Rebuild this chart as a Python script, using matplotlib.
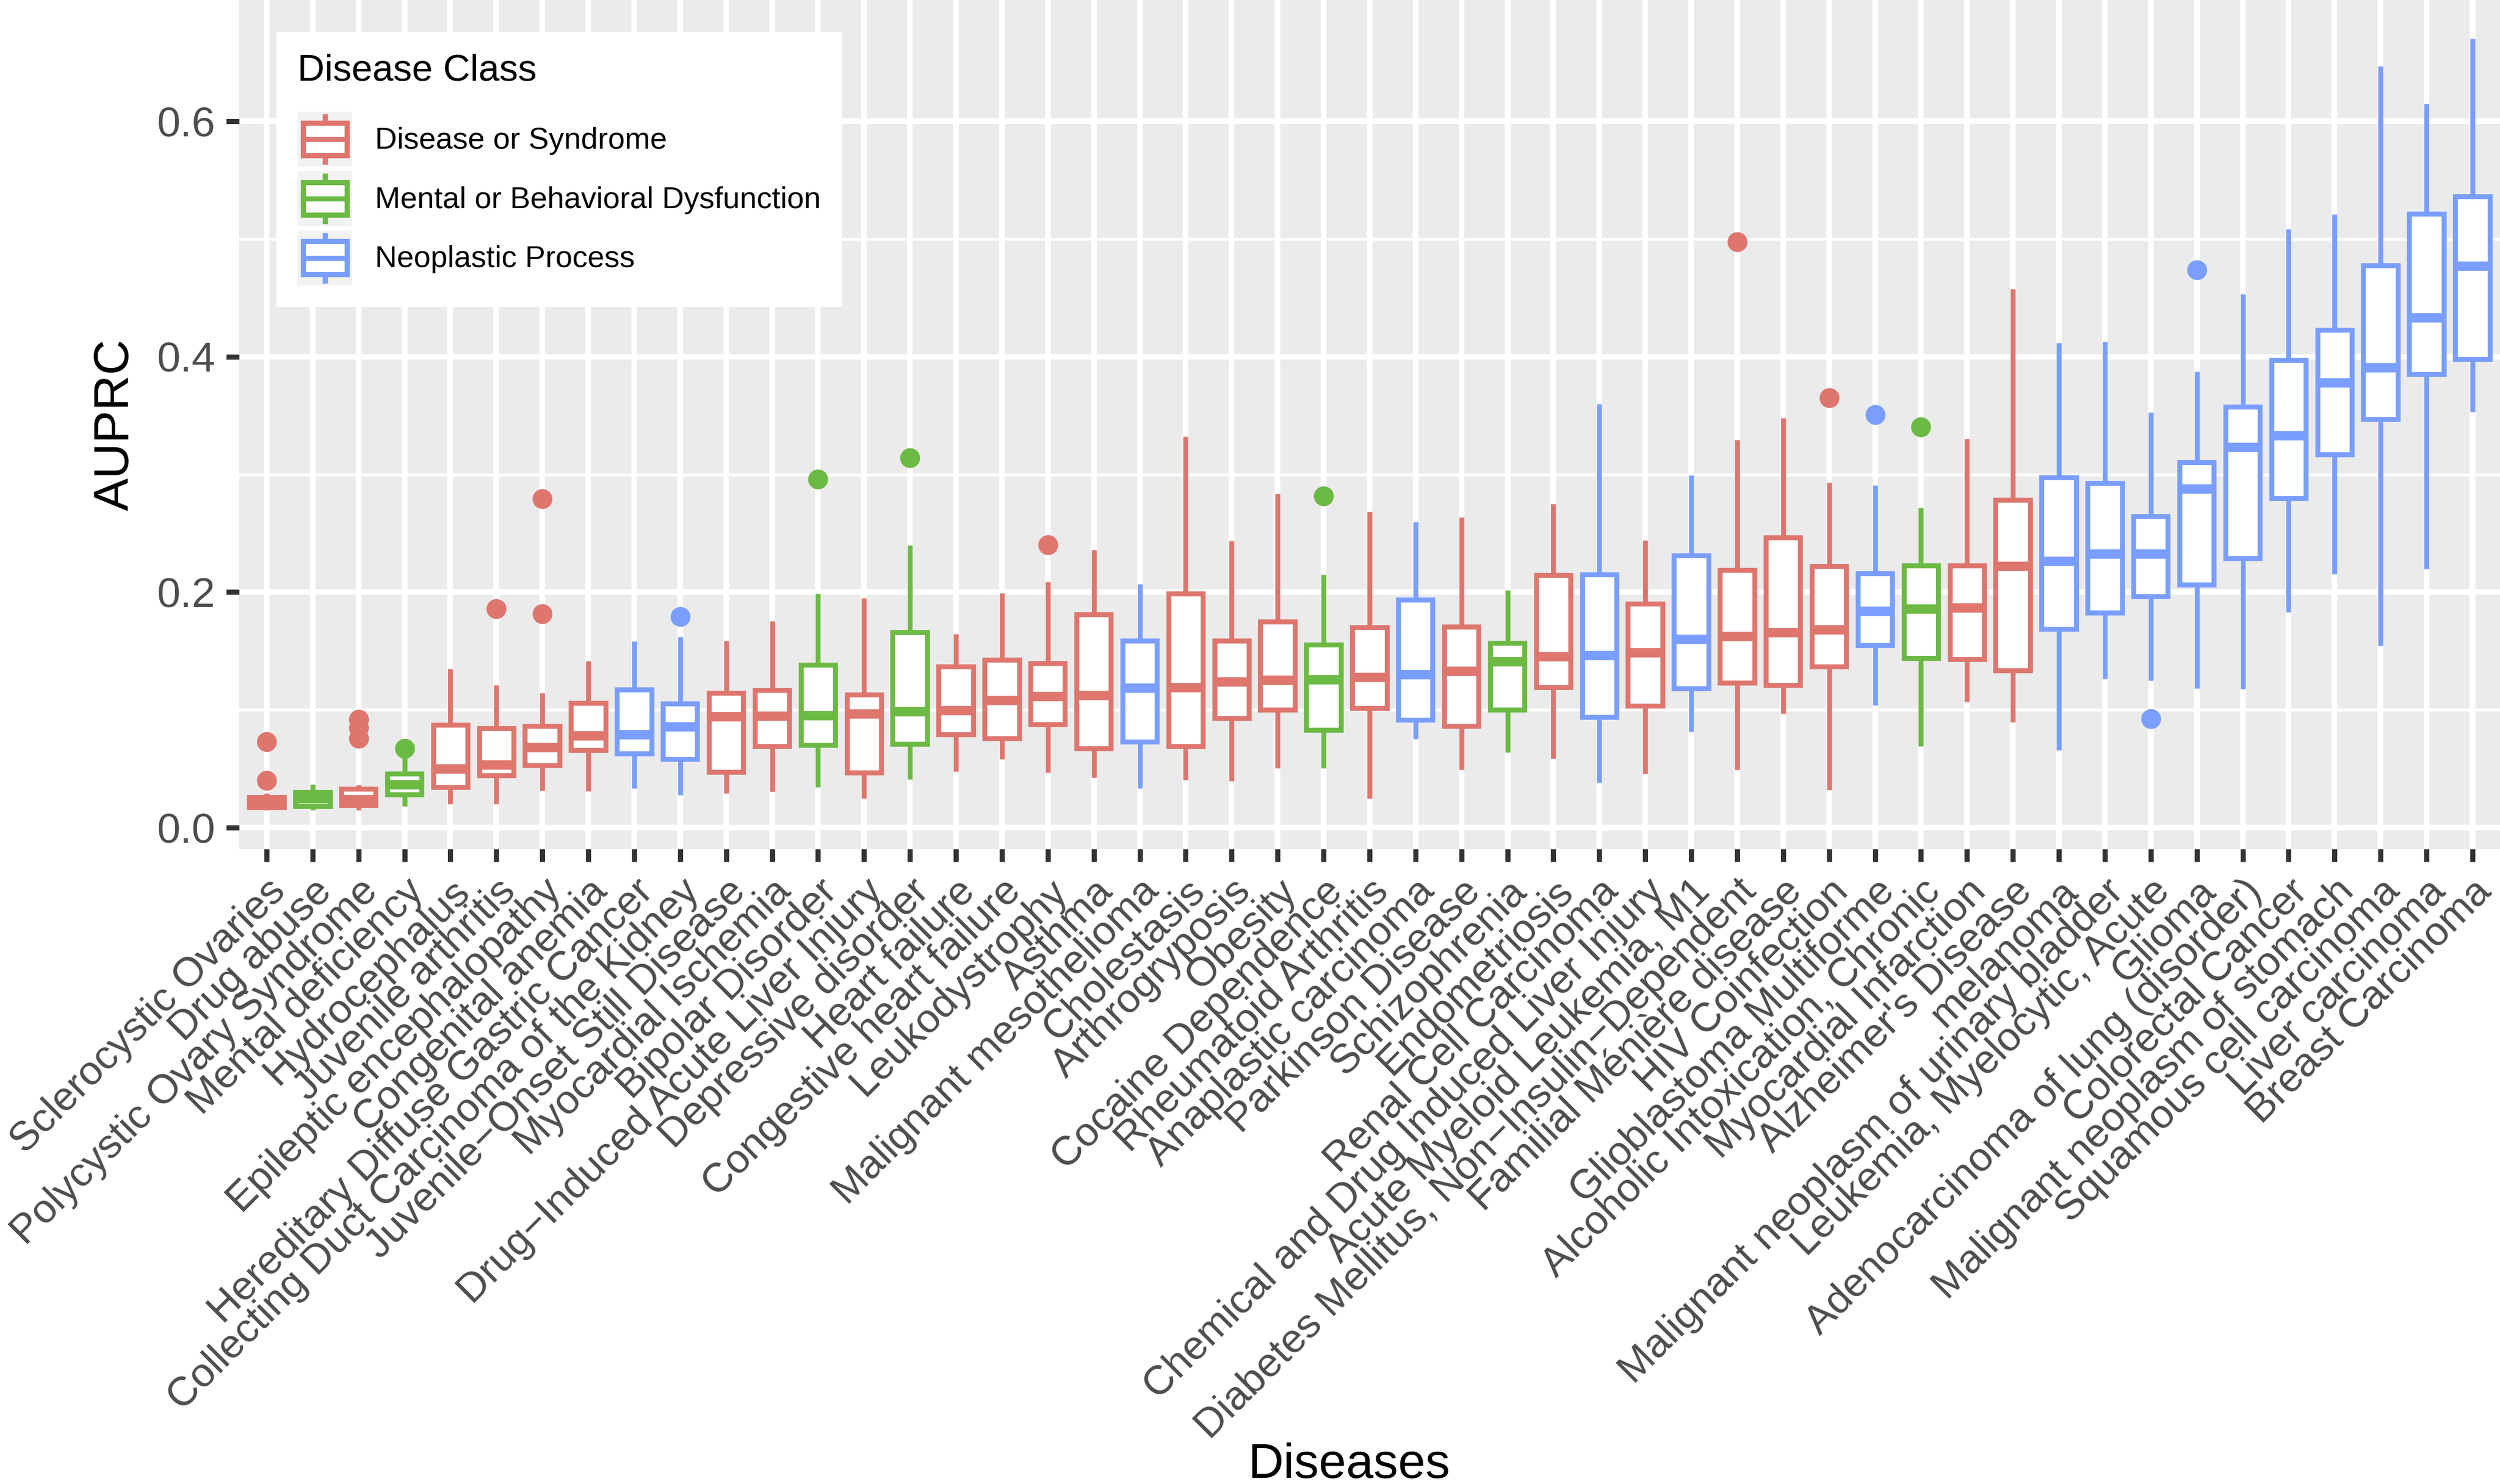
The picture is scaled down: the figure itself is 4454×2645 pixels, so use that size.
import matplotlib
matplotlib.use("Agg")
import matplotlib.pyplot as plt
from matplotlib.patches import Patch, Rectangle
from matplotlib.lines import Line2D
from matplotlib.legend_handler import HandlerBase
from matplotlib.ticker import FixedLocator

plt.rcParams['font.family'] = ['Liberation Sans', 'DejaVu Sans']

M = "\u2212"  # R draws the hyphen as a minus sign

diseases = [
    "Sclerocystic Ovaries", "Drug abuse", "Polycystic Ovary Syndrome", "Mental deficiency",
    "Hydrocephalus", "Juvenile arthritis", "Epileptic encephalopathy", "Congenital anemia",
    "Hereditary Diffuse Gastric Cancer", "Collecting Duct Carcinoma of the Kidney",
    "Juvenile" + M + "Onset Still Disease", "Myocardial Ischemia", "Bipolar Disorder",
    "Drug" + M + "Induced Acute Liver Injury", "Depressive disorder", "Heart failure",
    "Congestive heart failure", "Leukodystrophy", "Asthma", "Malignant mesothelioma",
    "Cholestasis", "Arthrogryposis", "Obesity", "Cocaine Dependence", "Rheumatoid Arthritis",
    "Anaplastic carcinoma", "Parkinson Disease", "Schizophrenia", "Endometriosis",
    "Renal Cell Carcinoma", "Chemical and Drug Induced Liver Injury", "Acute Myeloid Leukemia, M1",
    "Diabetes Mellitus, Non" + M + "Insulin" + M + "Dependent", "Familial Ménière disease",
    "HIV Coinfection", "Glioblastoma Multiforme", "Alcoholic Intoxication, Chronic",
    "Myocardial Infarction", "Alzheimer's Disease", "melanoma",
    "Malignant neoplasm of urinary bladder", "Leukemia, Myelocytic, Acute", "Glioma",
    "Adenocarcinoma of lung (disorder)", "Colorectal Cancer", "Malignant neoplasm of stomach",
    "Squamous cell carcinoma", "Liver carcinoma", "Breast Carcinoma",
]

# D = Disease or Syndrome, M = Mental or Behavioral Dysfunction, N = Neoplastic Process
disease_class = list("DMDMDDDDNNDDMDMDDDDNDDDMDNDMDNDNDDDNMDDNNNNNNNNNN")

whis_lo = [0.015, 0.015, 0.015, 0.018, 0.020, 0.020, 0.0315, 0.031, 0.0335, 0.0275,
           0.029, 0.0306, 0.0346, 0.025, 0.041, 0.0478, 0.058, 0.0466, 0.0425, 0.0335,
           0.0404, 0.0394, 0.0506, 0.0506, 0.0248, 0.0755, 0.049, 0.0638, 0.0587, 0.0384,
           0.046, 0.0815, 0.049, 0.097, 0.032, 0.104, 0.069, 0.107, 0.0898, 0.0659,
           0.1265, 0.125, 0.1185, 0.118, 0.183, 0.2155, 0.1546, 0.220, 0.353]
q1 = [0.017, 0.018, 0.019, 0.028, 0.0345, 0.0445, 0.053, 0.066, 0.063, 0.058,
      0.0472, 0.069, 0.070, 0.047, 0.071, 0.079, 0.0758, 0.0876, 0.0674, 0.073,
      0.069, 0.0932, 0.1003, 0.0832, 0.1016, 0.0915, 0.0863, 0.100, 0.119, 0.094,
      0.1037, 0.1185, 0.1232, 0.121, 0.137, 0.155, 0.144, 0.143, 0.1337, 0.1689,
      0.1825, 0.1965, 0.2066, 0.2289, 0.280, 0.317, 0.347, 0.385, 0.398]
median = [0.021, 0.025, 0.024, 0.037, 0.050, 0.0535, 0.068, 0.078, 0.079, 0.0857,
          0.0944, 0.095, 0.0955, 0.097, 0.0986, 0.0997, 0.1084, 0.1118, 0.1124, 0.1186,
          0.1193, 0.1242, 0.1252, 0.126, 0.128, 0.130, 0.1332, 0.1413, 0.1454, 0.1465,
          0.1487, 0.160, 0.1627, 0.1657, 0.1685, 0.184, 0.186, 0.1868, 0.222, 0.2263,
          0.2325, 0.2327, 0.288, 0.323, 0.3332, 0.378, 0.391, 0.4333, 0.477]
q3 = [0.026, 0.030, 0.033, 0.046, 0.0875, 0.0845, 0.0865, 0.106, 0.1175, 0.1056,
      0.1146, 0.1166, 0.1385, 0.113, 0.1657, 0.137, 0.1427, 0.1398, 0.1814, 0.159,
      0.1988, 0.159, 0.1752, 0.1553, 0.170, 0.1935, 0.1708, 0.157, 0.2144, 0.215,
      0.190, 0.2314, 0.2188, 0.2465, 0.222, 0.216, 0.2228, 0.2228, 0.2786, 0.2974,
      0.2928, 0.2645, 0.3105, 0.3576, 0.397, 0.423, 0.4776, 0.5215, 0.536]
whis_hi = [0.029, 0.037, 0.0365, 0.0595, 0.135, 0.121, 0.1145, 0.1415, 0.1585, 0.162,
           0.159, 0.1756, 0.199, 0.195, 0.2396, 0.1646, 0.1994, 0.209, 0.236, 0.2071,
           0.3323, 0.2435, 0.2835, 0.2149, 0.2686, 0.260, 0.2635, 0.2015, 0.275, 0.3598,
           0.244, 0.2993, 0.3295, 0.348, 0.293, 0.2906, 0.2715, 0.3305, 0.4575, 0.4116,
           0.413, 0.3529, 0.3874, 0.4532, 0.5085, 0.521, 0.647, 0.6147, 0.670]
outliers = [[0.040, 0.073], [], [0.076, 0.085, 0.092], [0.0675], [], [0.186], [0.1815, 0.2795],
            [], [], [0.1795], [], [], [0.296], [], [0.3143], [], [], [0.2404], [], [],
            [], [], [], [0.2817], [], [], [], [], [], [], [], [], [0.4974], [], [0.3652],
            [0.351], [0.3405], [], [], [], [], [0.0926], [0.4738], [], [], [], [], [], []]

class_names = {"D": "Disease or Syndrome", "M": "Mental or Behavioral Dysfunction",
               "N": "Neoplastic Process"}
class_colors = {"D": "#DE766E", "M": "#6CB944", "N": "#799EFF"}


class BoxKeyHandler(HandlerBase):
    def create_artists(self, legend, orig_handle, xdescent, ydescent, width, height,
                       fontsize, trans):
        c = orig_handle.get_edgecolor()
        x0, y0 = -xdescent, -ydescent
        bg = Rectangle((x0, y0), width, height, facecolor="#F2F2F2", edgecolor="none",
                       transform=trans)
        box = Rectangle((x0 + 0.1 * width, y0 + 0.2 * height), 0.8 * width, 0.6 * height,
                        facecolor="white", edgecolor=c, lw=2.2, transform=trans)
        cx = x0 + width / 2
        med = Line2D([x0 + 0.1 * width, x0 + 0.9 * width], [y0 + 0.5 * height] * 2,
                     color=c, lw=2.2, transform=trans)
        w1 = Line2D([cx, cx], [y0 + 0.04 * height, y0 + 0.2 * height], color=c, lw=2.2,
                    solid_capstyle="butt", transform=trans)
        w2 = Line2D([cx, cx], [y0 + 0.8 * height, y0 + 0.96 * height], color=c, lw=2.2,
                    solid_capstyle="butt", transform=trans)
        return [bg, box, med, w1, w2]


fig = plt.figure(figsize=(4454 / 300, 2645 / 300), dpi=300)
ax = fig.add_axes([0.0956, 0.428, 0.9044, 0.572])
ax.set_facecolor("#EBEBEB")

positions = list(range(1, len(diseases) + 1))
stats = []
for i in range(len(diseases)):
    stats.append({"label": diseases[i], "whislo": whis_lo[i], "q1": q1[i], "med": median[i],
                  "q3": q3[i], "whishi": whis_hi[i], "fliers": outliers[i]})

parts = ax.bxp(stats, positions=positions, widths=0.75, patch_artist=True, showcaps=False,
               boxprops=dict(lw=2.1, facecolor="white"),
               whiskerprops=dict(lw=2.1, solid_capstyle="butt"),
               medianprops=dict(lw=4, solid_capstyle="butt"),
               flierprops=dict(marker="o", markersize=8.5, markeredgewidth=0))

for i, cls in enumerate(disease_class):
    col = class_colors[cls]
    parts["boxes"][i].set_edgecolor(col)
    parts["medians"][i].set_color(col)
    parts["whiskers"][2 * i].set_color(col)
    parts["whiskers"][2 * i + 1].set_color(col)
    parts["fliers"][i].set_markerfacecolor(col)

ax.set_xlim(0.4, len(diseases) + 0.6)
ax.set_ylim(-0.018, 0.703)
ax.set_yticks([0.0, 0.2, 0.4, 0.6])
ax.set_yticklabels(["0.0", "0.2", "0.4", "0.6"])
ax.yaxis.set_minor_locator(FixedLocator([0.1, 0.3, 0.5]))
ax.set_xticks(positions)
ax.set_xticklabels(diseases, rotation=45, ha="right", va="top", rotation_mode="anchor")

ax.set_axisbelow(True)
ax.grid(which="major", color="white", lw=2.4)
ax.grid(which="minor", axis="y", color="white", lw=1.2)
for s in ax.spines.values():
    s.set_visible(False)
ax.tick_params(which="major", length=5.5, width=2.2, color="#333333", labelsize=17.5,
               labelcolor="#4D4D4D", pad=4.6)
ax.tick_params(axis="y", labelsize=18)
ax.tick_params(which="minor", length=0)

ax.set_xlabel("Diseases", fontsize=21, va="center")
ax.xaxis.set_label_coords(0.491, -0.726)
ax.set_ylabel("AUPRC", fontsize=21, va="center")
ax.yaxis.set_label_coords(-0.0544, 0.5)

handles = [Patch(facecolor="white", edgecolor=class_colors[k], label=class_names[k])
           for k in ["D", "M", "N"]]
leg = ax.legend(handles=handles, handler_map={Patch: BoxKeyHandler()}, title="Disease Class",
                loc="upper left", bbox_to_anchor=(0.0164, 0.962), fontsize=13,
                title_fontsize=16, alignment="left", frameon=True, fancybox=False,
                facecolor="white", edgecolor="none", framealpha=1, borderpad=0.7,
                handlelength=1.8, handleheight=2.4, labelspacing=0.15, handletextpad=0.75,
                borderaxespad=0)
leg._legend_box.sep = 10

fig.savefig("out.png", dpi=300)
